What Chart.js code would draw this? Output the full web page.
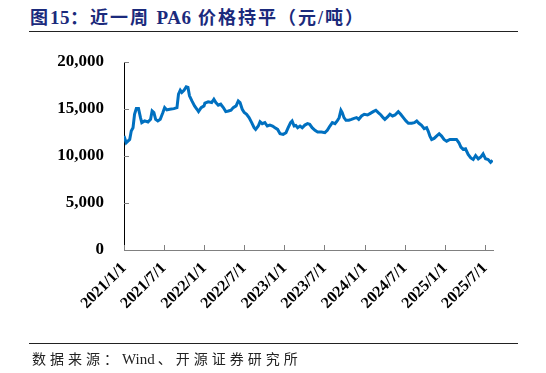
<!DOCTYPE html>
<html>
<head>
<meta charset="utf-8">
<script src="https://cdn.jsdelivr.net/npm/chart.js@4/dist/chart.umd.min.js"></script>
<style>
  html, body { margin: 0; padding: 0; background: #fff; }
  body { width: 546px; height: 373px; position: relative; overflow: hidden; }
  #myChart { position: absolute; left: 0; top: 0; }
  .title {
    position: absolute; left: 30px; top: 3px;
    font-family: "Liberation Serif", "Noto Sans CJK SC", serif;
    font-weight: bold; font-size: 18px; letter-spacing: 2px;
    color: #1b2a7c; white-space: nowrap;
  }
  .title .lat { letter-spacing: 0.5px; font-size: 19px; }
  .rule { position: absolute; left: 29px; width: 489px; height: 1px; background: #222; }
  .source {
    position: absolute; left: 32px; top: 348px;
    font-family: "Liberation Serif", "Noto Sans CJK SC", serif;
    font-size: 14px; letter-spacing: 4px; color: #222; white-space: nowrap;
  }
  .source .lat { letter-spacing: 0; font-size: 15px; margin-right: 3px; }
</style>
</head>
<body>
<div class="title">图<span class="lat">15</span>：近一周 <span class="lat">PA6</span> 价格持平（元/吨）</div>
<div class="rule" style="top:31px"></div>
<canvas id="myChart" width="546" height="373"></canvas>
<div class="rule" style="top:343px"></div>
<div class="source">数据来源：<span class="lat">Wind</span>、开源证券研究所</div>
<script>
// PA6 price (yuan/ton)
const dates = [
  "2021-01-01", "2021-01-11", "2021-01-27", "2021-02-03", "2021-02-11", "2021-02-18", "2021-02-26", "2021-03-08",
  "2021-03-17", "2021-03-23", "2021-04-05", "2021-04-20", "2021-05-02", "2021-05-09", "2021-05-17", "2021-05-25",
  "2021-06-04", "2021-06-15", "2021-06-27", "2021-07-05", "2021-07-15", "2021-07-28", "2021-08-16", "2021-08-30",
  "2021-09-06", "2021-09-14", "2021-09-21", "2021-10-01", "2021-10-11", "2021-10-19", "2021-10-26", "2021-11-06",
  "2021-11-18", "2021-11-29", "2021-12-06", "2021-12-18", "2021-12-31",
  "2022-01-04", "2022-01-19", "2022-02-04", "2022-02-14", "2022-02-23", "2022-03-06", "2022-03-17", "2022-03-29",
  "2022-04-09", "2022-04-21", "2022-05-03", "2022-05-13", "2022-05-26", "2022-06-05", "2022-06-13", "2022-06-23",
  "2022-07-02", "2022-07-13", "2022-07-24", "2022-08-05", "2022-08-16", "2022-08-23", "2022-09-04", "2022-09-12",
  "2022-09-22", "2022-10-04", "2022-10-15", "2022-10-27", "2022-11-08", "2022-11-19", "2022-12-01", "2022-12-12",
  "2022-12-26",
  "2023-01-08", "2023-01-18", "2023-01-29", "2023-02-05", "2023-02-14", "2023-02-22", "2023-03-02", "2023-03-13",
  "2023-03-23", "2023-04-04", "2023-04-16", "2023-04-26", "2023-05-07", "2023-05-20", "2023-06-01", "2023-06-19",
  "2023-07-04", "2023-07-15", "2023-07-27", "2023-08-07", "2023-08-19", "2023-08-29", "2023-09-07", "2023-09-15",
  "2023-09-21", "2023-09-29", "2023-10-08", "2023-10-21", "2023-11-02", "2023-11-14", "2023-11-25", "2023-12-05",
  "2023-12-18", "2023-12-30",
  "2024-01-14", "2024-01-25", "2024-02-09", "2024-02-21", "2024-03-03", "2024-03-15", "2024-03-25", "2024-04-02",
  "2024-04-14", "2024-04-25", "2024-05-07", "2024-05-18", "2024-06-02", "2024-06-13", "2024-06-25", "2024-07-07",
  "2024-07-18", "2024-08-02", "2024-08-14", "2024-08-25", "2024-09-04", "2024-09-16", "2024-09-28", "2024-10-09",
  "2024-10-16", "2024-10-24", "2024-11-01", "2024-11-12", "2024-11-23", "2024-12-05", "2024-12-16", "2024-12-27",
  "2025-01-08", "2025-01-23", "2025-02-07", "2025-02-22", "2025-03-05", "2025-03-14", "2025-03-24", "2025-04-04",
  "2025-04-16", "2025-04-28", "2025-05-09", "2025-05-20", "2025-06-01", "2025-06-13", "2025-06-23", "2025-07-04",
  "2025-07-16", "2025-07-27", "2025-08-05"
];
const prices = [
  12120, 11410, 11760, 12650, 13010, 14440, 15040, 15040,
  14080, 13550, 13730, 13620, 13900, 14790, 14620, 13900,
  13730, 13900, 14620, 15150, 14900, 14970, 15040, 15150,
  16580, 17000, 16760, 17000, 17360, 17290, 16400, 15860,
  15330, 14970, 14720, 15150, 15330,
  15620, 15760, 15690, 16040, 15690, 15400, 15510, 15150,
  14720, 14790, 14870, 15150, 15330, 15860, 15690, 14970,
  14620, 14440, 14080, 13550, 13010, 12830, 13190, 13650,
  13440, 13550, 13190, 13290, 13190, 13010, 12830, 12370,
  12300,
  12480, 13010, 13550, 13730, 13190, 13250, 13010, 13190,
  13010, 13290, 13440, 13370, 13010, 12730, 12550, 12550,
  12480, 12730, 13190, 13550, 13440, 13730, 14080, 14870,
  14620, 14080, 13800, 13800, 13900, 14010, 14080, 13900,
  14260, 14440,
  14360, 14510, 14720, 14870, 14620, 14360, 14080, 13900,
  14150, 14440, 14260, 14360, 14720, 14440, 14080, 13730,
  13480, 13480, 13550, 13730, 13480, 13260, 12910, 13010,
  12650, 12120, 11760, 11870, 12120, 12370, 12120, 11760,
  11580, 11760, 11760, 11760, 11410, 10940, 10700, 10770,
  10160, 9800, 9630, 10050, 9700, 9910, 10230, 9700,
  9630, 9340, 9550
];
const tickDates = ["2021-01-01", "2021-07-01", "2022-01-01", "2022-07-01", "2023-01-01",
                   "2023-07-01", "2024-01-01", "2024-07-01", "2025-01-01", "2025-07-01"];
const tickLabels = ["2021/1/1", "2021/7/1", "2022/1/1", "2022/7/1", "2023/1/1",
                    "2023/7/1", "2024/1/1", "2024/7/1", "2025/1/1", "2025/7/1"];
const yTicks = [0, 5000, 10000, 15000, 20000];
const xStart = "2021-01-01";
const xEnd = "2025-08-07";

const points = dates.map((d, i) => ({ x: Date.parse(d), y: prices[i] }));
const tickFont = { family: '"Liberation Serif", serif', weight: 'bold', size: 17 };

// small tick marks pointing into the plot
const innerTicks = {
    id: 'innerTicks',
    afterDraw(chart) {
        const { ctx, scales: { x, y } } = chart;
        ctx.save();
        ctx.lineWidth = 1;
        ctx.strokeStyle = '#808080';
        x.ticks.forEach(t => {
            const px = Math.round(x.getPixelForValue(t.value)) + 0.5;
            ctx.beginPath();
            ctx.moveTo(px, y.bottom);
            ctx.lineTo(px, y.bottom - 5);
            ctx.stroke();
        });
        y.ticks.forEach(t => {
            const py = Math.round(y.getPixelForValue(t.value)) + 0.5;
            ctx.beginPath();
            ctx.moveTo(x.left, py);
            ctx.lineTo(x.left + 5, py);
            ctx.stroke();
        });
        ctx.restore();
    }
};

const ctx = document.getElementById("myChart");

let myChart = new Chart(ctx, {
    type: "line",
    data: {
        datasets: [
            {
                label: "PA6",
                data: points,
                borderColor: "#0070c0",
                borderWidth: 3,
                pointRadius: 0,
                tension: 0,
            },
        ],
    },
    options: {
        responsive: false,
        animation: false,
        layout: { padding: { left: 0, right: 53, top: 62, bottom: 0 } },
        plugins: {
            legend: { display: false },
            tooltip: { enabled: false }
        },
        scales: {
            x: {
                type: 'linear',
                min: Date.parse(xStart),
                max: Date.parse(xEnd),
                afterBuildTicks: (scale) => {
                    scale.ticks = tickDates.map(d => ({ value: Date.parse(d) }));
                },
                afterFit: (scale) => { scale.height = 123; },
                grid: { display: true, drawOnChartArea: false, drawTicks: false },
                border: { color: '#808080', width: 1 },
                ticks: {
                    autoSkip: false,
                    minRotation: 45,
                    maxRotation: 45,
                    padding: 9,
                    color: '#000',
                    font: { family: '"Liberation Serif", serif', weight: 'bold', size: 16 },
                    callback: (value, index) => tickLabels[index]
                }
            },
            y: {
                min: 0,
                max: 20000,
                afterBuildTicks: (scale) => {
                    scale.ticks = yTicks.map(v => ({ value: v }));
                },
                afterFit: (scale) => { scale.width = 124; },
                grid: { display: true, drawOnChartArea: false, drawTicks: false },
                border: { color: '#000', width: 1 },
                ticks: {
                    padding: 20,
                    color: '#000',
                    font: tickFont,
                    callback: (value) => value.toLocaleString('en-US')
                }
            }
        }
    },
    plugins: [innerTicks]
});
</script>
</body>
</html>
